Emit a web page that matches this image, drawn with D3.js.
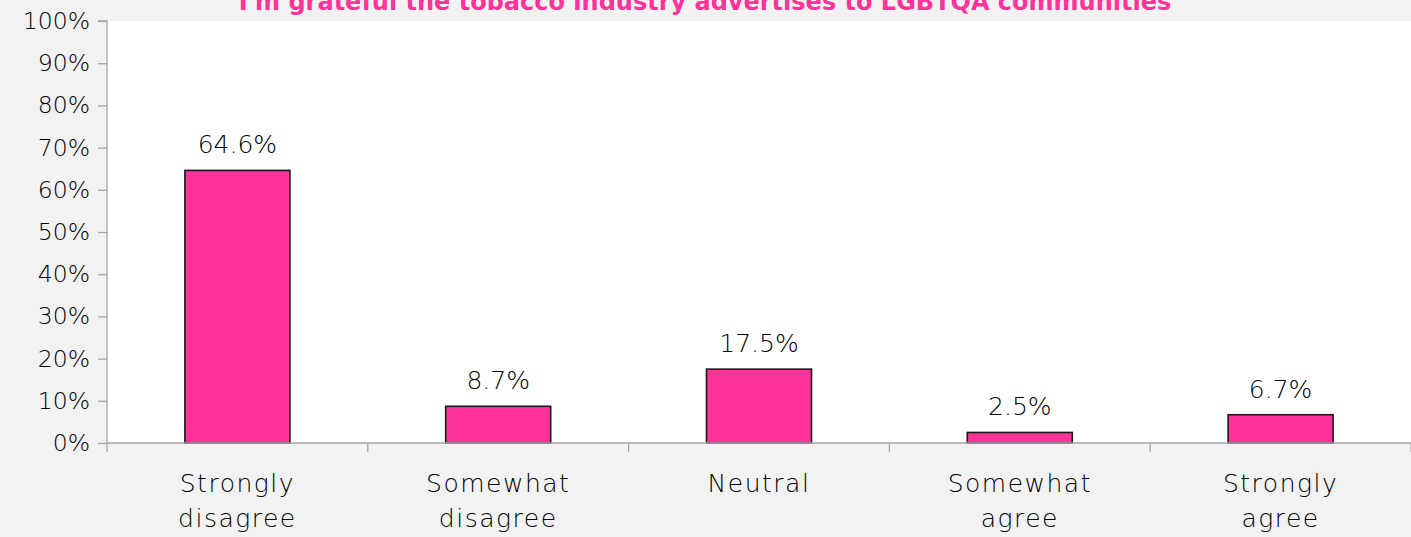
<!DOCTYPE html>
<html><head><meta charset="utf-8">
<script src="https://cdn.jsdelivr.net/npm/d3@7"></script>
<style>html,body{margin:0;padding:0;background:#f2f2f2;}svg{display:block;}</style>
</head><body>
<svg id="c" width="1411" height="537"></svg>
<script>
const title = "I'm grateful the tobacco industry advertises to LGBTQA communities";
const categories = [["Strongly","disagree"],["Somewhat","disagree"],["Neutral"],["Somewhat","agree"],["Strongly","agree"]];
const values = [64.6, 8.7, 17.5, 2.5, 6.7];
const yTicks = [0,10,20,30,40,50,60,70,80,90,100];

const W = 1411, H = 537;
const m = {left:107, right:0, top:21, bottom:94};
const svg = d3.select("#c");
const font = "'DejaVu Sans', 'Century Gothic', sans-serif";
const fs = 23.5;
const txt = "#000";

const x = d3.scaleBand().domain(d3.range(categories.length)).range([m.left, W - m.right]).paddingInner(0).paddingOuter(0);
const y = d3.scaleLinear().domain([0,100]).range([H - m.bottom, m.top]);

svg.append("rect").attr("x", m.left).attr("y", m.top).attr("width", W - m.left - m.right).attr("height", H - m.bottom - m.top).attr("fill", "#fff");

// y axis
const ya = svg.append("g").attr("transform", `translate(${m.left},0)`)
  .call(d3.axisLeft(y).tickValues(yTicks).tickFormat(d => d + "%").tickSize(9).tickPadding(8));
ya.select(".domain").attr("stroke", "#a6a6a6").attr("stroke-width", 1.3).attr("d", `M-9,${y(100)}H0V${y(0)}`);
ya.selectAll(".tick line").attr("stroke", "#a6a6a6").attr("stroke-width", 1.3);
ya.selectAll(".tick text").attr("font-family", font).attr("font-size", fs).attr("fill", txt).attr("font-weight", 300);

// bars
const bw = 105;
svg.selectAll(".bar").data(values).join("rect")
  .attr("x", (d,i) => x(i) + x.bandwidth()/2 - bw/2)
  .attr("y", d => y(d))
  .attr("width", bw)
  .attr("height", d => y(0) - y(d))
  .attr("fill", "#ff3399").attr("stroke", "#1a1a1a").attr("stroke-width", 1.6);

// value labels
svg.selectAll(".vl").data(values).join("text")
  .attr("x", (d,i) => x(i) + x.bandwidth()/2)
  .attr("y", d => y(d) - 17)
  .attr("text-anchor", "middle").attr("font-family", font).attr("font-size", 25).attr("fill", txt).attr("font-weight", 300)
  .text(d => d.toFixed(1) + "%");

// x axis
const xa = svg.append("g").attr("transform", `translate(0,${y(0)})`);
xa.append("line").attr("x1", m.left).attr("x2", W).attr("y1", 0).attr("y2", 0).attr("stroke", "#a6a6a6").attr("stroke-width", 1.3);
const bounds = d3.range(categories.length + 1).map(i => i < categories.length ? x(i) : x(categories.length-1) + x.bandwidth());
xa.selectAll(".xt").data(bounds).join("line")
  .attr("x1", d => d).attr("x2", d => d).attr("y1", 0).attr("y2", 9).attr("stroke", "#a6a6a6").attr("stroke-width", 1.3);
categories.forEach((lines, i) => {
  const t = xa.append("text").attr("text-anchor", "middle").attr("font-family", font).attr("font-size", 25)
    .attr("letter-spacing", 1.5).attr("fill", txt).attr("font-weight", 300);
  lines.forEach((ln, j) => {
    t.append("tspan").attr("x", x(i) + x.bandwidth()/2).attr("y", 49 + j*35).text(ln);
  });
});

// title
svg.append("text").attr("x", 705).attr("y", 10).attr("text-anchor", "middle")
  .attr("font-family", font).attr("font-weight", "bold").attr("font-size", 24).attr("fill", "#ff3399").text(title);
</script>
</body></html>
